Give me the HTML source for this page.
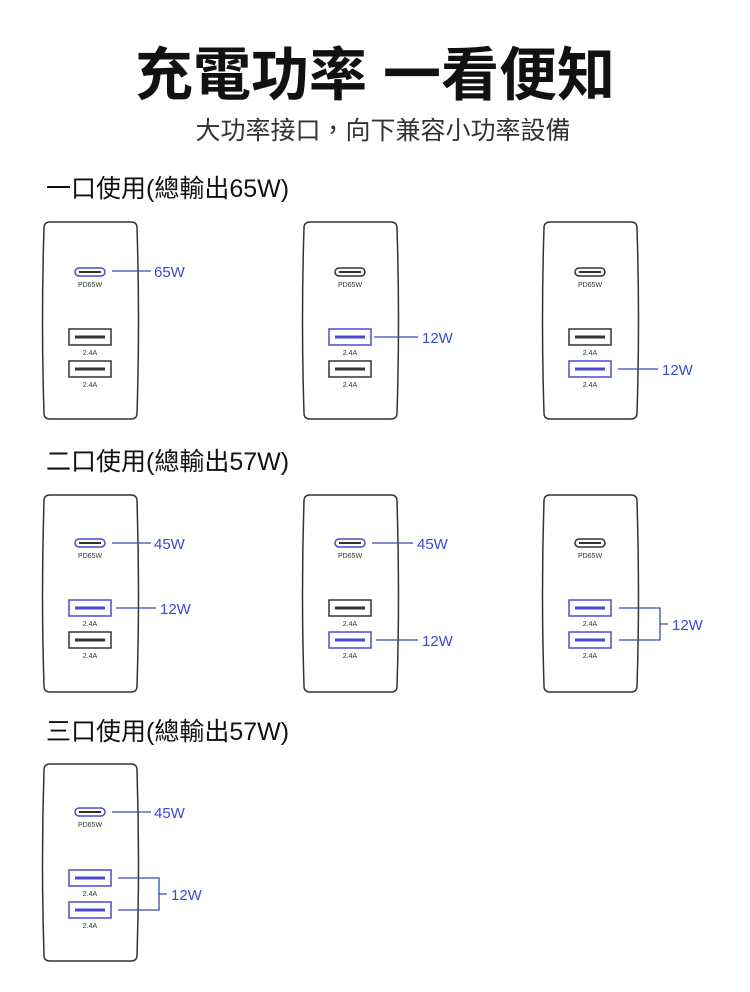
<!DOCTYPE html>
<html><head><meta charset="utf-8"><style>
html,body{margin:0;padding:0;background:#fff}
svg{display:block}
.t{font-family:"Liberation Sans","Noto Sans CJK TC",sans-serif}
</style></head><body>
<svg width="750" height="992" viewBox="0 0 750 992" xmlns="http://www.w3.org/2000/svg">
<defs>
<style>
.dev{fill:#fff;stroke:#333;stroke-width:1.5}
.lbl{font-family:"Liberation Sans",sans-serif;font-size:7px;fill:#333;text-anchor:middle}
.bl{stroke:#3a4aa8;stroke-width:1.3;fill:none}
.w{font-family:"Liberation Sans","Noto Sans CJK TC",sans-serif;font-size:15px;fill:#3a4ad0}
.h{font-family:"Liberation Sans","Noto Sans CJK TC",sans-serif;font-size:25px;fill:#111}
</style>
</defs>
<text class="t" x="375" y="95" text-anchor="middle" font-size="58" font-weight="bold" fill="#111" font-family="'Liberation Sans','Noto Sans CJK TC',sans-serif">充電功率 一看便知</text>
<text x="383" y="139" text-anchor="middle" font-size="25" fill="#333" font-family="'Liberation Sans','Noto Sans CJK TC',sans-serif">大功率接口，向下兼容小功率設備</text>
<text class="h" x="46" y="197">一口使用(總輸出65W)</text>
<text class="h" x="46" y="470">二口使用(總輸出57W)</text>
<text class="h" x="46" y="740">三口使用(總輸出57W)</text>

<!-- Row 1 -->
<g transform="translate(44,222)">
<path class="dev" d="M6,0H87Q93,0 93,6Q96,99 93,191Q93,197 87,197H6Q0,197 0,191Q-3,99 0,6Q0,0 6,0Z"/>
<rect x="31" y="46" width="30" height="8" rx="4" fill="none" stroke="#4a4ad0" stroke-width="1.5"/><line x1="35" y1="50" x2="57" y2="50" stroke="#333" stroke-width="2"/>
<text class="lbl" x="46" y="65">PD65W</text>
<rect x="25" y="107" width="42" height="16" fill="none" stroke="#333" stroke-width="1.5"/><line x1="31" y1="115" x2="61" y2="115" stroke="#333" stroke-width="3"/>
<text class="lbl" x="46" y="133">2.4A</text>
<rect x="25" y="139" width="42" height="16" fill="none" stroke="#333" stroke-width="1.5"/><line x1="31" y1="147" x2="61" y2="147" stroke="#333" stroke-width="3"/>
<text class="lbl" x="46" y="165">2.4A</text>
<line class="bl" x1="68" y1="49" x2="107" y2="49"/><text class="w" x="110" y="55">65W</text>
</g>
<g transform="translate(304,222)">
<path class="dev" d="M6,0H87Q93,0 93,6Q96,99 93,191Q93,197 87,197H6Q0,197 0,191Q-3,99 0,6Q0,0 6,0Z"/>
<rect x="31" y="46" width="30" height="8" rx="4" fill="none" stroke="#333" stroke-width="1.5"/><line x1="35" y1="50" x2="57" y2="50" stroke="#333" stroke-width="2"/>
<text class="lbl" x="46" y="65">PD65W</text>
<rect x="25" y="107" width="42" height="16" fill="none" stroke="#4a4ad0" stroke-width="1.5"/><line x1="31" y1="115" x2="61" y2="115" stroke="#4a4ad0" stroke-width="3"/>
<text class="lbl" x="46" y="133">2.4A</text>
<rect x="25" y="139" width="42" height="16" fill="none" stroke="#333" stroke-width="1.5"/><line x1="31" y1="147" x2="61" y2="147" stroke="#333" stroke-width="3"/>
<text class="lbl" x="46" y="165">2.4A</text>
<line class="bl" x1="70" y1="115" x2="114" y2="115"/><text class="w" x="118" y="121">12W</text>
</g>
<g transform="translate(544,222)">
<path class="dev" d="M6,0H87Q93,0 93,6Q96,99 93,191Q93,197 87,197H6Q0,197 0,191Q-3,99 0,6Q0,0 6,0Z"/>
<rect x="31" y="46" width="30" height="8" rx="4" fill="none" stroke="#333" stroke-width="1.5"/><line x1="35" y1="50" x2="57" y2="50" stroke="#333" stroke-width="2"/>
<text class="lbl" x="46" y="65">PD65W</text>
<rect x="25" y="107" width="42" height="16" fill="none" stroke="#333" stroke-width="1.5"/><line x1="31" y1="115" x2="61" y2="115" stroke="#333" stroke-width="3"/>
<text class="lbl" x="46" y="133">2.4A</text>
<rect x="25" y="139" width="42" height="16" fill="none" stroke="#4a4ad0" stroke-width="1.5"/><line x1="31" y1="147" x2="61" y2="147" stroke="#4a4ad0" stroke-width="3"/>
<text class="lbl" x="46" y="165">2.4A</text>
<line class="bl" x1="74" y1="147" x2="114" y2="147"/><text class="w" x="118" y="153">12W</text>
</g>

<!-- Row 2 -->
<g transform="translate(44,495)">
<path class="dev" d="M6,0H87Q93,0 93,6Q96,99 93,191Q93,197 87,197H6Q0,197 0,191Q-3,99 0,6Q0,0 6,0Z"/>
<rect x="31" y="44" width="30" height="8" rx="4" fill="none" stroke="#4a4ad0" stroke-width="1.5"/><line x1="35" y1="48" x2="57" y2="48" stroke="#333" stroke-width="2"/>
<text class="lbl" x="46" y="63">PD65W</text>
<rect x="25" y="105" width="42" height="16" fill="none" stroke="#4a4ad0" stroke-width="1.5"/><line x1="31" y1="113" x2="61" y2="113" stroke="#4a4ad0" stroke-width="3"/>
<text class="lbl" x="46" y="131">2.4A</text>
<rect x="25" y="137" width="42" height="16" fill="none" stroke="#333" stroke-width="1.5"/><line x1="31" y1="145" x2="61" y2="145" stroke="#333" stroke-width="3"/>
<text class="lbl" x="46" y="163">2.4A</text>
<line class="bl" x1="68" y1="48" x2="107" y2="48"/><text class="w" x="110" y="54">45W</text>
<line class="bl" x1="72" y1="113" x2="112" y2="113"/><text class="w" x="116" y="119">12W</text>
</g>
<g transform="translate(304,495)">
<path class="dev" d="M6,0H87Q93,0 93,6Q96,99 93,191Q93,197 87,197H6Q0,197 0,191Q-3,99 0,6Q0,0 6,0Z"/>
<rect x="31" y="44" width="30" height="8" rx="4" fill="none" stroke="#4a4ad0" stroke-width="1.5"/><line x1="35" y1="48" x2="57" y2="48" stroke="#333" stroke-width="2"/>
<text class="lbl" x="46" y="63">PD65W</text>
<rect x="25" y="105" width="42" height="16" fill="none" stroke="#333" stroke-width="1.5"/><line x1="31" y1="113" x2="61" y2="113" stroke="#333" stroke-width="3"/>
<text class="lbl" x="46" y="131">2.4A</text>
<rect x="25" y="137" width="42" height="16" fill="none" stroke="#4a4ad0" stroke-width="1.5"/><line x1="31" y1="145" x2="61" y2="145" stroke="#4a4ad0" stroke-width="3"/>
<text class="lbl" x="46" y="163">2.4A</text>
<line class="bl" x1="68" y1="48" x2="109" y2="48"/><text class="w" x="113" y="54">45W</text>
<line class="bl" x1="72" y1="145" x2="114" y2="145"/><text class="w" x="118" y="151">12W</text>
</g>
<g transform="translate(544,495)">
<path class="dev" d="M6,0H87Q93,0 93,6Q96,99 93,191Q93,197 87,197H6Q0,197 0,191Q-3,99 0,6Q0,0 6,0Z"/>
<rect x="31" y="44" width="30" height="8" rx="4" fill="none" stroke="#333" stroke-width="1.5"/><line x1="35" y1="48" x2="57" y2="48" stroke="#333" stroke-width="2"/>
<text class="lbl" x="46" y="63">PD65W</text>
<rect x="25" y="105" width="42" height="16" fill="none" stroke="#4a4ad0" stroke-width="1.5"/><line x1="31" y1="113" x2="61" y2="113" stroke="#4a4ad0" stroke-width="3"/>
<text class="lbl" x="46" y="131">2.4A</text>
<rect x="25" y="137" width="42" height="16" fill="none" stroke="#4a4ad0" stroke-width="1.5"/><line x1="31" y1="145" x2="61" y2="145" stroke="#4a4ad0" stroke-width="3"/>
<text class="lbl" x="46" y="163">2.4A</text>
<path class="bl" d="M75,113H116V145H75M116,129H124"/><text class="w" x="128" y="135">12W</text>
</g>

<!-- Row 3 -->
<g transform="translate(44,764)">
<path class="dev" d="M6,0H87Q93,0 93,6Q96,99 93,191Q93,197 87,197H6Q0,197 0,191Q-3,99 0,6Q0,0 6,0Z"/>
<rect x="31" y="44" width="30" height="8" rx="4" fill="none" stroke="#4a4ad0" stroke-width="1.5"/><line x1="35" y1="48" x2="57" y2="48" stroke="#333" stroke-width="2"/>
<text class="lbl" x="46" y="63">PD65W</text>
<rect x="25" y="106" width="42" height="16" fill="none" stroke="#4a4ad0" stroke-width="1.5"/><line x1="31" y1="114" x2="61" y2="114" stroke="#4a4ad0" stroke-width="3"/>
<text class="lbl" x="46" y="132">2.4A</text>
<rect x="25" y="138" width="42" height="16" fill="none" stroke="#4a4ad0" stroke-width="1.5"/><line x1="31" y1="146" x2="61" y2="146" stroke="#4a4ad0" stroke-width="3"/>
<text class="lbl" x="46" y="164">2.4A</text>
<line class="bl" x1="68" y1="48" x2="107" y2="48"/><text class="w" x="110" y="54">45W</text>
<path class="bl" d="M74,114H115V146H74M115,130H123"/><text class="w" x="127" y="136">12W</text>
</g>
</svg>
</body></html>
